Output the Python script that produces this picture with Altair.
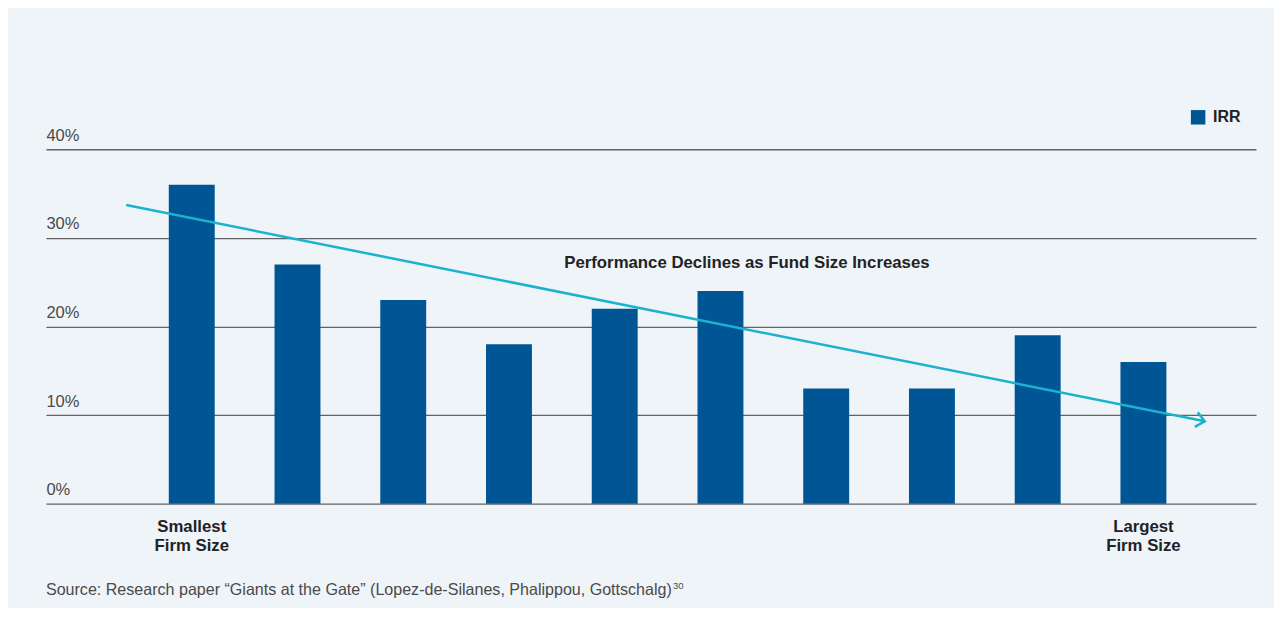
import altair as alt
import pandas as pd

# ---- data ----
bar_index = [0, 1, 2, 3, 4, 5, 6, 7, 8, 9]
irr_values = [36, 27, 23, 18, 22, 24, 13, 13, 19, 16]
series_name = "IRR"
y_ticks = [0, 10, 20, 30, 40]

trend_x = [-0.62, 9.58]
trend_y = [33.7, 9.3]

size_labels_x = [0, 9]
size_labels_text = [["Smallest", "Firm Size"], ["Largest", "Firm Size"]]

annotation_text = "Performance Declines as Fund Size Increases"
annotation_x = [5.25]
annotation_y = [26.6]

source_text = "Source: Research paper \u201cGiants at the Gate\u201d (Lopez-de-Silanes, Phalippou, Gottschalg)"
source_note = "30"

X_DOMAIN = [-1.379, 10.065]
Y_DOMAIN = [0, 40]

BAR_COLOR = "#005694"
TREND_COLOR = "#1bb2cd"
BG = "#eff4f9"
FONT = "Liberation Sans"

bars_df = pd.DataFrame({"idx": bar_index, "irr": irr_values, "series": [series_name] * len(bar_index)})
trend_df = pd.DataFrame({"x": trend_x, "y": trend_y})
tip_df = pd.DataFrame({"x": [trend_x[-1]], "y": [trend_y[-1]]})
lab_df = pd.DataFrame({"x": size_labels_x, "t": size_labels_text, "y": [0, 0]})
ann_df = pd.DataFrame({"x": annotation_x, "y": annotation_y, "t": [annotation_text]})
src_df = pd.DataFrame({"x": [X_DOMAIN[0]], "y": [0], "t": [source_text], "n": [source_note]})

xs = alt.Scale(domain=X_DOMAIN, nice=False, zero=False, padding=0)
ys = alt.Scale(domain=Y_DOMAIN, nice=False)

bars = alt.Chart(bars_df).mark_bar(width=46).encode(
    x=alt.X("idx:Q", scale=xs, axis=None),
    y=alt.Y("irr:Q", scale=ys, title=None,
            axis=alt.Axis(values=y_ticks, labelExpr="datum.value + '%'", domain=False,
                          ticks=False, tickSize=0, labelPadding=0, labelAlign="left",
                          labelBaseline="alphabetic", labelOffset=-9, grid=True,
                          gridColor="#626262", gridWidth=1.3, labelFont=FONT,
                          labelFontSize=16.5, labelColor="#4a4a4a")),
    color=alt.Color("series:N", scale=alt.Scale(range=[BAR_COLOR]),
                    legend=alt.Legend(title=None, orient="none", legendX=1146, legendY=-40,
                                      symbolType="square", symbolSize=210, symbolStrokeWidth=0,
                                      labelFont=FONT, labelFontSize=16, labelFontWeight="bold",
                                      labelColor="#222222", padding=0, labelOffset=7)),
)

trend = alt.Chart(trend_df).mark_line(color=TREND_COLOR, strokeWidth=2.5).encode(
    x=alt.X("x:Q", scale=xs), y=alt.Y("y:Q", scale=ys)
)

tip = alt.Chart(tip_df).mark_point(
    shape="M -1 -0.85 L 0 0 L -1 0.85", size=300, filled=False, stroke=TREND_COLOR,
    strokeWidth=2.5, angle=11.35, opacity=1
).encode(x=alt.X("x:Q", scale=xs), y=alt.Y("y:Q", scale=ys))

size_labels = alt.Chart(lab_df).mark_text(
    font=FONT, fontSize=16.8, fontWeight="bold", color="#222222", align="center",
    baseline="alphabetic", dy=28, lineHeight=19
).encode(x=alt.X("x:Q", scale=xs), y=alt.Y("y:Q", scale=ys), text="t")

ann = alt.Chart(ann_df).mark_text(
    font=FONT, fontSize=16.8, fontWeight="bold", color="#222222", align="center",
    baseline="alphabetic"
).encode(x=alt.X("x:Q", scale=xs), y=alt.Y("y:Q", scale=ys), text="t")

src = alt.Chart(src_df).mark_text(
    font=FONT, fontSize=16.1, color="#4a4a4a", align="left", baseline="alphabetic", dy=91
).encode(x=alt.X("x:Q", scale=xs), y=alt.Y("y:Q", scale=ys), text="t")

src_note = alt.Chart(src_df).mark_text(
    font=FONT, fontSize=9.5, color="#4a4a4a", align="left", baseline="alphabetic",
    dx=628, dy=85
).encode(x=alt.X("x:Q", scale=xs), y=alt.Y("y:Q", scale=ys), text="n")

chart = alt.layer(bars, trend, tip, size_labels, ann, src, src_note).properties(
    width=1212, height=355,
    autosize=alt.AutoSizeParams(type="none"),
    padding={"left": 38, "top": 141, "right": 18, "bottom": 104},
    background=BG,
).configure_view(stroke=None)

chart.save("out.html", embed_options={"renderer": "svg", "actions": False})
